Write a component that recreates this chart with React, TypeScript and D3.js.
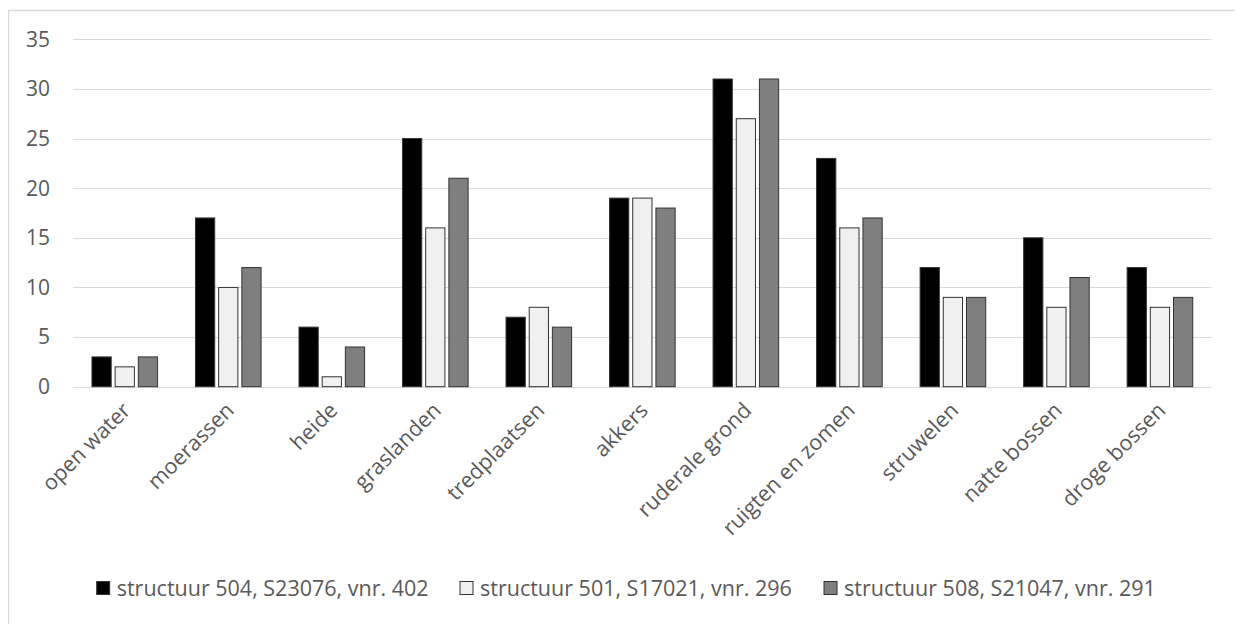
import React from "react";
import * as d3 from "d3";

const categories = [
  "open water",
  "moerassen",
  "heide",
  "graslanden",
  "tredplaatsen",
  "akkers",
  "ruderale grond",
  "ruigten en zomen",
  "struwelen",
  "natte bossen",
  "droge bossen",
];
const seriesNames = [
  "structuur 504, S23076, vnr. 402",
  "structuur 501, S17021, vnr. 296",
  "structuur 508, S21047, vnr. 291",
];
const s504 = [3, 17, 6, 25, 7, 19, 31, 23, 12, 15, 12];
const s501 = [2, 10, 1, 16, 8, 19, 27, 16, 9, 8, 8];
const s508 = [3, 12, 4, 21, 6, 18, 31, 17, 9, 11, 9];
const yTicks = [0, 5, 10, 15, 20, 25, 30, 35];
const fills = ["#000000", "#f0f0f0", "#7f7f7f"];

const W = 1235;
const H = 616;
const plotLeft = 65;
const plotRight = 1203.7;
const plotTop = 31.3;
const plotBottom = 378.7;
const FONT = "'Open Sans', sans-serif";
const TEXT = "#595959";

export default function App() {
  const x = d3.scaleBand<string>().domain(categories).range([plotLeft, plotRight]).padding(0);
  const groupW = 65.6;
  const xi = d3
    .scaleBand<number>()
    .domain([0, 1, 2])
    .range([-groupW / 2, groupW / 2])
    .paddingInner(0.17)
    .paddingOuter(0);
  const y = d3.scaleLinear().domain([0, 35]).range([plotBottom, plotTop]);
  const series = [s504, s501, s508];

  const legendX = [88.7, 452, 816];

  return (
    <svg width={W} height={H} style={{ display: "block" }} fontFamily={FONT}>
      <rect x={0.5} y={2.5} width={1232} height={H + 10} fill="#fff" stroke="#d9d9d9" strokeWidth={1.5} />
      {yTicks.map((t) => (
        <g key={t}>
          <line x1={plotLeft} x2={plotRight} y1={Math.round(y(t)) + 0.5} y2={Math.round(y(t)) + 0.5} stroke="#d9d9d9" strokeWidth={1} />
          <text x={42} y={y(t)} dy="0.35em" textAnchor="end" fontSize={21} fill={TEXT}>
            {t}
          </text>
        </g>
      ))}
      {categories.map((c, ci) => (
        <g key={c} transform={`translate(${x(c)! + x.bandwidth() / 2},0)`}>
          {series.map((s, si) => (
            <rect
              key={si}
              x={xi(si)!}
              y={y(s[ci])}
              width={xi.bandwidth()}
              height={y(0) - y(s[ci])}
              fill={fills[si]}
              stroke="#333"
              strokeWidth={1}
            />
          ))}
          <text
            transform={`translate(7,${plotBottom + 25}) rotate(-45)`}
            textAnchor="end"
            fontSize={21.5}
            fill={TEXT}
          >
            {c}
          </text>
        </g>
      ))}
      {seriesNames.map((n, i) => (
        <g key={n} transform={`translate(${legendX[i]},580)`}>
          <rect x={0} y={-6.5} width={13} height={13} fill={fills[i]} stroke="#333" strokeWidth={1} />
          <text x={20} y={0} dy="0.35em" fontSize={21.5} fill={TEXT}>
            {n}
          </text>
        </g>
      ))}
    </svg>
  );
}
